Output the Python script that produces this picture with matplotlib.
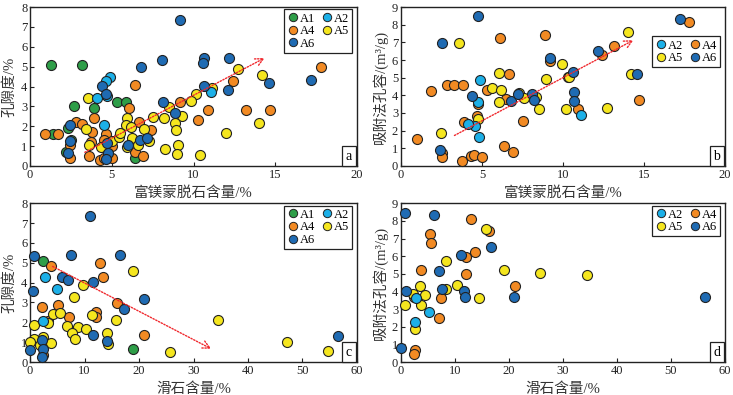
import matplotlib
matplotlib.use("Agg")
import matplotlib.pyplot as plt
from matplotlib.lines import Line2D

plt.rcParams['font.family'] = ['Liberation Serif', 'Noto Sans CJK SC', 'DejaVu Sans']
plt.rcParams['axes.unicode_minus'] = False

colors = {'A1': '#2e9e48', 'A2': '#1cb0e8', 'A4': '#f28a23', 'A5': '#f5e61e', 'A6': '#1f6bb3'}

# ---------- panel a: porosity vs Mg-rich montmorillonite ----------
a_A1 = [(1.3, 5.1), (3.2, 5.1), (2.7, 3.0), (3.9, 2.9), (5.3, 3.2), (5.9, 3.2), (2.3, 1.9),
        (1.4, 1.6), (2.2, 0.7), (6.4, 0.4), (2.5, 1.3)]
a_A2 = [(4.9, 4.5), (4.65, 4.3), (4.1, 3.4), (4.7, 3.5), (4.55, 2.07), (11.06, 3.7)]
a_A4 = [(17.8, 5.0), (12.4, 4.3), (6.45, 4.1), (9.2, 3.2), (6.05, 2.9), (10.9, 2.8), (13.2, 2.8),
        (14.7, 2.8), (10.3, 2.3), (3.9, 2.4), (2.8, 2.2), (3.2, 2.1), (3.8, 1.7), (0.9, 1.6),
        (1.7, 1.6), (7.4, 1.8), (6.65, 2.2), (4.65, 1.6), (3.7, 1.2), (2.45, 1.05), (2.45, 0.4),
        (3.6, 0.5), (4.25, 0.3), (4.5, 0.4), (5.0, 0.4), (5.0, 1.0), (6.4, 0.7), (6.9, 0.5), (4.5, 1.3)]
a_A5 = [(12.7, 4.87), (14.2, 4.6), (11.16, 3.92), (10.16, 3.61), (9.86, 3.29), (8.47, 2.99),
        (9.29, 2.49), (8.22, 2.4), (8.88, 2.15), (8.94, 1.82), (7.55, 2.45), (6.98, 1.85),
        (5.94, 2.4), (5.84, 2.07), (6.16, 1.98), (3.57, 3.41), (3.43, 1.85), (3.63, 1.06),
        (4.35, 0.97), (5.04, 1.23), (5.47, 1.48), (5.53, 1.68), (6.24, 1.43), (5.96, 0.97),
        (6.61, 1.06), (7.29, 1.23), (8.27, 0.86), (9.08, 1.06), (8.98, 0.6), (10.37, 0.54),
        (11.98, 1.65), (13.98, 2.15)]
a_A6 = [(9.18, 7.36), (10.67, 5.43), (10.55, 5.18), (12.18, 5.43), (8.06, 5.34), (6.76, 4.96),
        (4.39, 4.03), (10.67, 4.05), (12.1, 3.83), (14.6, 4.2), (17.2, 4.34), (4.65, 3.61),
        (8.16, 3.21), (8.88, 2.69), (2.45, 2.07), (2.45, 1.23), (2.35, 0.67), (4.7, 1.14),
        (4.76, 0.67), (4.65, 0.34), (5.98, 1.03), (6.73, 1.31), (7.14, 1.39)]

# ---------- panel b: adsorption pore volume vs Mg-rich montmorillonite ----------
b_A2 = [(4.9, 4.85), (4.74, 3.65), (4.6, 2.27), (4.13, 2.38), (4.8, 1.63), (11.1, 2.89)]
b_A4 = [(17.8, 8.13), (8.9, 7.43), (6.1, 7.24), (13.16, 6.77), (12.4, 6.26), (9.2, 5.92),
        (6.69, 5.22), (10.29, 5.03), (2.85, 4.56), (3.3, 4.56), (3.82, 4.59), (1.83, 4.22),
        (5.32, 4.31), (6.48, 3.78), (14.7, 3.74), (4.74, 3.5), (10.9, 3.23), (4.7, 2.8),
        (3.92, 2.46), (7.52, 2.55), (1.0, 1.53), (2.55, 0.72), (2.55, 0.53), (3.78, 0.3),
        (4.35, 0.57), (4.54, 0.62), (5.01, 0.53), (6.39, 1.1), (6.9, 0.76)]
b_A5 = [(14.0, 7.58), (3.61, 6.96), (9.92, 5.78), (6.04, 5.26), (8.95, 4.93), (10.39, 5.03),
        (14.23, 5.22), (5.63, 4.4), (6.2, 4.31), (7.31, 4.16), (7.62, 3.84), (6.04, 3.65),
        (8.34, 3.89), (8.5, 3.21), (10.18, 3.23), (12.71, 3.27), (4.78, 2.67), (2.5, 1.89)]
b_A6 = [(17.2, 8.34), (4.74, 8.47), (2.53, 6.96), (9.22, 6.1), (12.18, 6.54), (10.6, 5.35),
        (14.6, 5.2), (10.7, 4.18), (10.7, 3.7), (4.39, 3.99), (6.8, 3.7), (7.2, 4.06),
        (8.09, 4.08), (8.19, 3.74), (2.42, 0.91)]

# ---------- panel c: porosity vs talc ----------
c_A1 = [(2.33, 5.08), (18.98, 0.68)]
c_A2 = [(2.76, 4.28), (5.02, 3.67), (2.33, 2.06)]
c_A4 = [(3.8, 4.86), (12.86, 4.99), (13.47, 4.28), (16.04, 2.96), (2.14, 2.76), (5.2, 2.88),
        (7.23, 2.28), (12.06, 2.5), (12.12, 2.25), (20.94, 1.35), (3.37, 2.06), (2.33, 0.34)]
c_A5 = [(18.98, 4.57), (9.67, 3.89), (8.14, 3.27), (4.16, 2.4), (5.51, 2.45), (0.8, 1.86),
        (3.37, 1.95), (6.74, 1.83), (8.88, 1.78), (10.29, 1.64), (7.78, 1.44), (8.27, 1.18),
        (11.33, 2.37), (15.8, 2.11), (14.08, 1.44), (14.39, 0.9), (0.8, 1.18), (0.0, 1.0),
        (2.45, 1.27), (3.86, 0.96), (1.8, 0.85), (25.7, 0.51), (34.5, 2.11), (47.2, 1.02),
        (54.6, 0.58)]
c_A6 = [(11.0, 7.36), (0.8, 5.33), (7.53, 5.38), (16.5, 5.38), (5.94, 4.28), (7.04, 4.11),
        (11.6, 4.03), (0.49, 3.59), (20.94, 3.2), (17.3, 2.66), (11.5, 1.35), (14.2, 1.07),
        (2.27, 1.1), (2.45, 0.64), (2.27, 0.25), (0.0, 0.63), (56.5, 1.3)]

# ---------- panel d: adsorption pore volume vs talc ----------
d_A2 = [(2.83, 3.61), (2.53, 2.28), (5.11, 2.85)]
d_A4 = [(13.06, 8.12), (16.27, 7.42), (5.3, 7.23), (5.48, 6.75), (13.68, 6.24), (12.08, 5.95),
        (3.64, 5.19), (12.08, 5.0), (21.13, 4.32), (7.39, 3.61), (2.34, 3.71), (6.96, 2.51),
        (2.53, 0.67), (2.4, 0.48)]
d_A5 = [(15.77, 7.55), (8.26, 5.75), (19.04, 5.23), (25.75, 5.04), (34.44, 4.91), (3.45, 4.32),
        (10.35, 4.38), (8.38, 4.13), (4.37, 3.8), (2.22, 3.84), (3.76, 3.23), (0.68, 3.23),
        (14.54, 3.61), (2.59, 1.85)]
d_A6 = [(0.68, 8.47), (6.1, 8.31), (16.7, 6.53), (11.15, 6.09), (7.02, 5.17), (7.64, 4.15),
        (11.65, 4.05), (11.77, 3.67), (0.99, 4.05), (21.0, 3.71), (56.4, 3.71), (0.0, 0.82)]

# trend arrows (start, end) in data units
a_arrow = [(3.2, 0.62), (14.5, 5.5)]
b_arrow = [(3.15, 1.65), (14.5, 7.2)]
c_arrow = [(3.7, 4.88), (33.7, 0.6)]

xlabel_mont = '富镁蒙脱石含量/%'
xlabel_talc = '滑石含量/%'
ylabel_por = '孔隙度/%'
ylabel_vol = '吸附法孔容/(m³/g)'

fig = plt.figure(figsize=(7.33, 3.95), dpi=100)
pos = {
    'a': [0.041, 0.580, 0.446, 0.402],
    'b': [0.547, 0.580, 0.442, 0.402],
    'c': [0.041, 0.0835, 0.446, 0.402],
    'd': [0.547, 0.0835, 0.442, 0.402],
}


def draw(key, groups, xlim, ylim, xticks, yticks, xlabel, ylabel, arrow, legend_order, ncol_anchor):
    ax = fig.add_axes(pos[key])
    for name, pts in groups:
        xs = [p[0] for p in pts]
        ys = [p[1] for p in pts]
        ax.scatter(xs, ys, s=52, c=colors[name], edgecolors='#222222', linewidths=0.8,
                   zorder=3, clip_on=False)
    if arrow is not None:
        ax.annotate('', xy=arrow[1], xytext=arrow[0],
                    arrowprops=dict(arrowstyle='->', color='#f0282d', lw=1.0,
                                    linestyle=(0, (1, 1.2)), mutation_scale=14),
                    zorder=4)
    ax.set_xlim(*xlim)
    ax.set_ylim(*ylim)
    ax.set_xticks(xticks)
    ax.set_yticks(yticks)
    ax.tick_params(direction='in', length=3, width=0.8, labelsize=9, pad=2,
                   colors='#222222')
    for sp in ax.spines.values():
        sp.set_linewidth(1.0)
        sp.set_color('#222222')
    ax.set_xlabel(xlabel, fontsize=10.5, labelpad=4, color='#333333')
    ax.set_ylabel(ylabel, fontsize=10.5, labelpad=3, color='#333333')
    handles = [Line2D([], [], marker='o', linestyle='none', markersize=6,
                      markerfacecolor=colors[n], markeredgecolor='#222222',
                      markeredgewidth=0.7, label=n) for n in legend_order]
    leg = ax.legend(handles=handles, ncol=2, loc='upper right', bbox_to_anchor=ncol_anchor,
                    fontsize=9, frameon=True, fancybox=False, edgecolor='#222222',
                    framealpha=1.0, handletextpad=0.0, columnspacing=0.5, handlelength=1.0,
                    borderpad=0.25, labelspacing=0.05, borderaxespad=0.0)
    leg.get_frame().set_linewidth(0.9)
    leg.set_zorder(7)
    ax.text(0.985, 0.02, key, transform=ax.transAxes, ha='right', va='bottom', fontsize=10,
            bbox=dict(boxstyle='square,pad=0.25', facecolor='white', edgecolor='#222222',
                      linewidth=0.9), zorder=6)
    return ax


draw('a', [('A1', a_A1), ('A4', a_A4), ('A5', a_A5), ('A2', a_A2), ('A6', a_A6)],
     (0, 20), (0, 8), [0, 5, 10, 15, 20], range(0, 9), xlabel_mont, ylabel_por, a_arrow,
     ['A1', 'A4', 'A6', 'A2', 'A5'], (0.985, 0.985))
draw('b', [('A4', b_A4), ('A5', b_A5), ('A2', b_A2), ('A6', b_A6)],
     (0, 20), (0, 9), [0, 5, 10, 15, 20], range(0, 10), xlabel_mont, ylabel_vol, b_arrow,
     ['A2', 'A5', 'A4', 'A6'], (0.985, 0.815))
draw('c', [('A1', c_A1), ('A4', c_A4), ('A5', c_A5), ('A2', c_A2), ('A6', c_A6)],
     (0, 60), (0, 8), [0, 10, 20, 30, 40, 50, 60], range(0, 9), xlabel_talc, ylabel_por, c_arrow,
     ['A1', 'A4', 'A6', 'A2', 'A5'], (0.985, 0.985))
draw('d', [('A4', d_A4), ('A5', d_A5), ('A2', d_A2), ('A6', d_A6)],
     (0, 60), (0, 9), [0, 10, 20, 30, 40, 50, 60], range(0, 10), xlabel_talc, ylabel_vol, None,
     ['A2', 'A5', 'A4', 'A6'], (0.985, 0.985))

fig.savefig('out.png', dpi=100)
